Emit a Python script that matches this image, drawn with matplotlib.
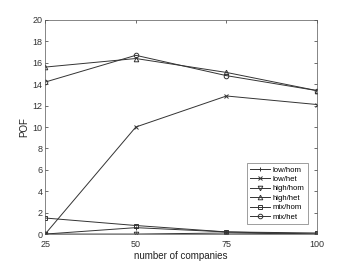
import numpy as np
import matplotlib
matplotlib.use("Agg")
import matplotlib.pyplot as plt

# data
companies = [25, 50, 75, 100]
low_hom = [0.0, 0.6, 0.2, 0.0]
low_het = [0.0, 10.0, 12.9, 12.1]
high_hom = [0.0, 0.0, 0.1, 0.0]
high_het = [15.6, 16.4, 15.1, 13.4]
mix_hom = [1.5, 0.8, 0.2, 0.1]
mix_het = [14.2, 16.7, 14.8, 13.4]

series = [
    ("low/hom", low_hom, "+"),
    ("low/het", low_het, "x"),
    ("high/hom", high_hom, "v"),
    ("high/het", high_het, "^"),
    ("mix/hom", mix_hom, "s"),
    ("mix/het", mix_het, "o"),
]

plt.rcParams["font.family"] = ["Liberation Sans", "DejaVu Sans"]
plt.rcParams["font.size"] = 6.5

fig = plt.figure(figsize=(3.5, 2.63), dpi=100)
ax = fig.add_axes([0.129, 0.110, 0.777, 0.814])

for name, vals, mk in series:
    ax.plot(companies, vals, color="#333333", linewidth=0.7, marker=mk,
            markersize=3.3, markerfacecolor="none", markeredgewidth=0.7,
            label=name)

ax.set_xlim(25, 100)
ax.set_ylim(0, 20)
ax.set_xticks(companies)
ax.set_yticks(np.arange(0, 21, 2))
ax.tick_params(direction="in", top=True, right=True, length=2.5,
               width=0.5, labelsize=6.5, colors="#333333", pad=2)
ax.tick_params(axis="x", pad=4)
for s in ax.spines.values():
    s.set_linewidth(0.5)
    s.set_color("#555555")
ax.set_xlabel("number of companies", fontsize=7, labelpad=2, color="#222222")
ax.set_ylabel("POF", fontsize=7, labelpad=2, color="#222222")

leg = ax.legend(loc="lower right", bbox_to_anchor=(0.98, 0.03), fontsize=5.6,
                frameon=True, fancybox=False, handlelength=2.6,
                labelspacing=0.25, borderpad=0.4, handletextpad=0.3)
leg.get_frame().set_edgecolor("#555555")
leg.get_frame().set_linewidth(0.5)

fig.savefig("out.png", dpi=100)
